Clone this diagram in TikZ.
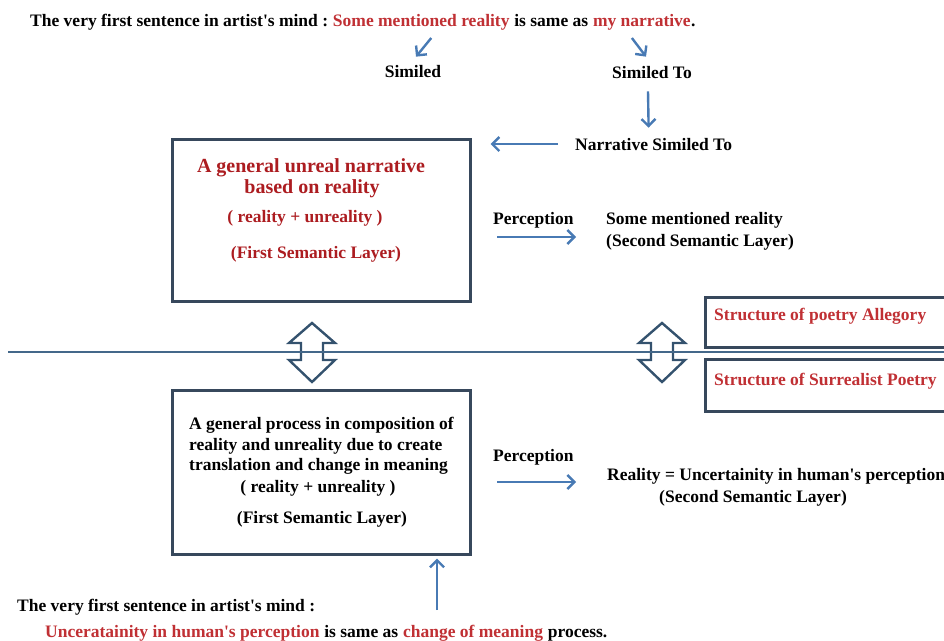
\documentclass[tikz,border=0pt]{standalone}
\usepackage{fontspec}
\setmainfont{Liberation Serif}
\usetikzlibrary{arrows.meta,calc}

\definecolor{txtred}{RGB}{192,48,52}
\definecolor{boxred}{RGB}{172,28,32}
\definecolor{boxline}{RGB}{55,72,92}
\definecolor{arrowblue}{RGB}{72,122,180}
\definecolor{rulecol}{RGB}{68,104,138}
\definecolor{dblcol}{RGB}{52,82,110}

\newcommand{\apos}{\textquotesingle}

\tikzset{
  txt/.style={inner sep=0pt, font=\fontsize{17.5}{21}\selectfont\bfseries},
  headtxt/.style={inner sep=0pt, text=boxred, font=\fontsize{20}{24}\selectfont\bfseries},
  panel/.style={draw=boxline, line width=2.6pt, inner sep=0pt},
  arr/.style={draw=arrowblue, line width=2.4pt, -{Straight Barb[length=7pt,width=14pt]}},
  dbl/.style={draw=dblcol, line width=2.4pt, line join=miter},
  rulestyle/.style={draw=rulecol, line width=2.4pt},
}

\begin{document}
\begin{tikzpicture}[x=1pt,y=-1pt]
\useasboundingbox (0,0) rectangle (944,640);
\clip (0,0) rectangle (944,640);

% ---- opening sentence (top) ----
\node[txt, anchor=base west] (top1) at (30,26) {The very first sentence in artist\apos s mind :};
\node[txt, text=txtred, anchor=base west] (top2) at ([xshift=4.4pt]top1.base east) {Some mentioned reality};
\node[txt, anchor=base west] (top3) at ([xshift=4.4pt]top2.base east) {is same as};
\node[txt, text=txtred, anchor=base west] (top4) at ([xshift=4.4pt]top3.base east) {my narrative};
\node[txt, anchor=base west] (top5) at (top4.base east) {.};

\node[txt, anchor=base] (similed) at (413,77) {Similed};
\node[txt, anchor=base] (simto) at (652,78) {Similed To};
\node[txt, anchor=base west] (narr) at (575,150) {Narrative Similed To};

\draw[arr] ([xshift=10pt,yshift=-8pt]top2.south) -- ([xshift=3pt,yshift=8pt]similed.north);
\draw[arr] ([xshift=-10pt,yshift=-8pt]top4.south) -- ([xshift=-6pt,yshift=9pt]simto.north);
\draw[arr] ([xshift=-4pt,yshift=-13pt]simto.south) -- ([xshift=-5pt,yshift=10pt]narr.north);

% ---- upper panel ----
\node[panel, anchor=north west, minimum width=298pt, minimum height=162pt] (box1) at (171,138) {};
\node[headtxt, anchor=base] (h1) at (311,172) {A general unreal narrative};
\node[headtxt, anchor=base] (h2) at (312,193) {based on reality};
\node[txt, text=boxred, anchor=base] (h3) at (305,222) {( reality + unreality )};
\node[txt, text=boxred, anchor=base] (h4) at (316,258) {(First Semantic Layer)};

\draw[arr] ([xshift=-17pt]narr.west) -- ([xshift=19pt]box1.east |- narr.west);

\node[txt, anchor=base west] (perc1) at (493,224) {Perception};
\coordinate (p1a) at (497,237);
\coordinate (p1b) at (576,237);
\draw[arr] (p1a) -- (p1b);
\node[txt, anchor=base west] (smr1) at (606,224) {Some mentioned reality};
\node[txt, anchor=base west] (smr2) at (606,246) {(Second Semantic Layer)};

% ---- separating rule and double arrows ----
\foreach \cx in {312,662} {
  \draw[dbl] (\cx,323) -- ++(23,20) -- ++(-12,0) -- ++(0,17) -- ++(12,0)
    -- (\cx,382) -- ++(-23,-22) -- ++(12,0) -- ++(0,-17) -- ++(-12,0) -- cycle;
}
\draw[rulestyle] (8,352) -- (944,352);

% ---- structure panels (right) ----
\node[panel, anchor=north west, minimum width=250pt, minimum height=50pt] (allegory) at (704,296) {};
\node[txt, text=txtred, anchor=base west] (allegorytxt) at (714,320) {Structure of poetry Allegory};
\node[panel, anchor=north west, minimum width=250pt, minimum height=52pt] (surreal) at (704,358) {};
\node[txt, text=txtred, anchor=base west] (surrealtxt) at (714,385) {Structure of Surrealist Poetry};

% ---- lower panel ----
\node[panel, anchor=north west, minimum width=298pt, minimum height=164pt] (box2) at (171,389) {};
\node[txt, anchor=base west] (b1) at (189,429) {A general process in composition of};
\node[txt, anchor=base west] (b2) at (189,450) {reality and unreality due to create};
\node[txt, anchor=base west] (b3) at (189,470) {translation and change in meaning};
\node[txt, anchor=base] (b4) at (318,492) {( reality + unreality )};
\node[txt, anchor=base] (b5) at (322,523) {(First Semantic Layer)};

\node[txt, anchor=base west] (perc2) at (493,461) {Perception};
\coordinate (p2a) at (497,482);
\coordinate (p2b) at (576,482);
\draw[arr] (p2a) -- (p2b);
\node[txt, anchor=base west] (unc1) at (607,480) {Reality = Uncertainity in human\apos s perception};
\node[txt, anchor=base west] (unc2) at (659,502) {(Second Semantic Layer)};

% ---- closing sentence (bottom) ----
\coordinate (upfrom) at (437,610);
\draw[arr, shorten >=3pt] (upfrom) -- (upfrom |- box2.south);

\node[txt, anchor=base west] (bot1) at (17,611) {The very first sentence in artist\apos s mind :};
\node[txt, text=txtred, anchor=base west] (bot2) at (45,637) {Unceratainity in human\apos s perception};
\node[txt, anchor=base west] (bot3) at ([xshift=4.4pt]bot2.base east) {is same as};
\node[txt, text=txtred, anchor=base west] (bot4) at ([xshift=4.4pt]bot3.base east) {change of meaning};
\node[txt, anchor=base west] (bot5) at ([xshift=4.4pt]bot4.base east) {process.};
\end{tikzpicture}
\end{document}
